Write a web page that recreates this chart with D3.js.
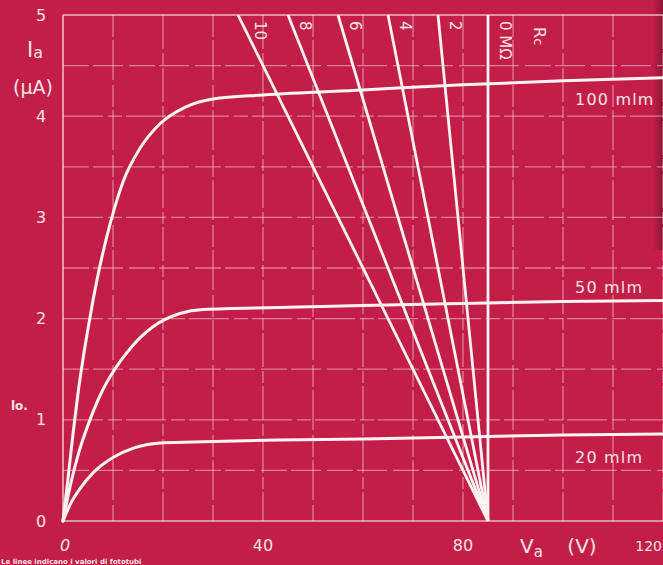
<!DOCTYPE html>
<html>
<head>
<meta charset="utf-8">
<script src="https://d3js.org/d3.v7.min.js"></script>
<style>
  html, body { margin: 0; padding: 0; background: #c21e48; }
  svg { display: block; }
  text { font-family: "DejaVu Sans", sans-serif; fill: #f5e4e6; }
</style>
</head>
<body>
<div id="chart"></div>
<script>
// anode voltage (V) / anode current (uA)
let v100 = [0, 1, 2, 3, 4, 5, 6, 7, 9.5, 12, 15.5, 19.5, 24.5, 30, 40, 60, 80, 100, 120];
let i100 = [0, 0.42, 0.86, 1.26, 1.6, 1.9, 2.18, 2.43, 2.95, 3.35, 3.69, 3.93, 4.09, 4.17, 4.21, 4.26, 4.31, 4.35, 4.38];

let v50 = [0, 1.5, 3.3, 5.4, 7.7, 10.1, 13.7, 18, 23.4, 28, 43, 60, 80, 100, 120];
let i50 = [0, 0.36, 0.7, 1.0, 1.27, 1.48, 1.72, 1.92, 2.05, 2.09, 2.11, 2.13, 2.15, 2.17, 2.18];

let v20 = [0, 1.5, 3.4, 6.1, 10.1, 14.1, 19.4, 26, 43, 60, 80, 100, 120];
let i20 = [0, 0.17, 0.32, 0.48, 0.63, 0.72, 0.77, 0.78, 0.8, 0.81, 0.83, 0.85, 0.86];

let curveNames = ["100 mlm", "50 mlm", "20 mlm"];

// load lines: Rc (MOhm), voltage where each one meets the 5 uA edge, supply voltage
let rcValues = [10, 8, 6, 4, 2, 0];
let rcTopV = [35, 45, 55, 65, 75, 85];
let supplyV = 85;

let xTicks = [0, 40, 80, 120];
let xTickLabels = ["0", "40", "80", "120"];
let yTicks = [0, 1, 2, 3, 4, 5];

let W = 663, H = 565;

let svg = d3.select("#chart").append("svg")
  .attr("width", W).attr("height", H);

let defs = svg.append("defs");
let grad = defs.append("linearGradient").attr("id", "edge")
  .attr("x1", 0).attr("x2", 1).attr("y1", 0).attr("y2", 0);
grad.append("stop").attr("offset", 0).attr("stop-color", "#5a0f22").attr("stop-opacity", 0);
grad.append("stop").attr("offset", 1).attr("stop-color", "#5a0f22").attr("stop-opacity", 0.55);

svg.append("rect").attr("width", W).attr("height", H).attr("fill", "#c21e48");
svg.append("rect").attr("x", 653).attr("y", 0).attr("width", 10).attr("height", 250)
  .attr("fill", "url(#edge)");

let x = d3.scaleLinear().domain([0, 120]).range([63, 663]);
let y = d3.scaleLinear().domain([0, 5]).range([521, 15]);

// grid
let grid = svg.append("g")
  .attr("stroke", "#f6dfe3")
  .attr("stroke-opacity", 0.5)
  .attr("stroke-width", 1.3)
  .attr("fill", "none");

grid.selectAll("line.v")
  .data(d3.range(10, 121, 10))
  .enter().append("line")
  .attr("x1", d => x(d)).attr("x2", d => x(d))
  .attr("y1", y(5)).attr("y2", y(0))
  .attr("stroke-dasharray", (d, i) => i % 2 ? "34,4,12,3" : "22,3,40,5");

grid.selectAll("line.h")
  .data(d3.range(0.5, 5, 0.5))
  .enter().append("line")
  .attr("x1", x(0)).attr("x2", x(120))
  .attr("y1", d => y(d)).attr("y2", d => y(d))
  .attr("stroke-dasharray", (d, i) => i % 2 ? "40,5,14,4" : "26,4,30,6");

// frame: left, top, bottom
let frame = svg.append("g").attr("stroke", "#f6dfe3").attr("stroke-opacity", 0.8)
  .attr("stroke-width", 1.6).attr("fill", "none");
frame.append("line").attr("x1", x(0)).attr("x2", x(0)).attr("y1", y(5)).attr("y2", y(0));
frame.append("line").attr("x1", x(0)).attr("x2", x(120)).attr("y1", y(5)).attr("y2", y(5));
frame.append("line").attr("x1", x(0)).attr("x2", x(120)).attr("y1", y(0)).attr("y2", y(0));

// photocurrent curves
let line = d3.line()
  .x(d => x(d[0])).y(d => y(d[1]))
  .curve(d3.curveMonotoneX);

let series = [
  d3.zip(v100, i100),
  d3.zip(v50, i50),
  d3.zip(v20, i20)
];

svg.append("g").selectAll("path")
  .data(series)
  .enter().append("path")
  .attr("d", line)
  .attr("fill", "none")
  .attr("stroke", "#fdf4f3")
  .attr("stroke-width", 3)
  .attr("stroke-linecap", "round");

// load lines
svg.append("g").selectAll("line")
  .data(rcTopV)
  .enter().append("line")
  .attr("x1", x(supplyV)).attr("y1", y(0))
  .attr("x2", d => x(d)).attr("y2", y(5))
  .attr("stroke", "#fdf4f3")
  .attr("stroke-width", 2.8);

// Rc labels, rotated
svg.append("g").selectAll("text")
  .data(rcValues)
  .enter().append("text")
  .attr("transform", (d, i) => "translate(" + (x(rcTopV[i]) + (i === 0 ? 22 : 17)) + ",21) rotate(90)")
  .attr("dominant-baseline", "central")
  .attr("font-size", 15)
  .text(d => d === 0 ? "0 MΩ" : d);

let rcTitle = svg.append("text")
  .attr("transform", "translate(" + (x(supplyV) + 52) + ",27) rotate(90)")
  .attr("dominant-baseline", "central")
  .attr("font-size", 16);
rcTitle.append("tspan").text("R");
rcTitle.append("tspan").attr("font-size", 13).attr("dy", 1).text("c");

// curve labels
let labelY = [105, 293, 463];
svg.append("g").selectAll("text")
  .data(curveNames)
  .enter().append("text")
  .attr("x", 575)
  .attr("y", (d, i) => labelY[i])
  .attr("font-size", 16)
  .attr("letter-spacing", 1.2)
  .text(d => d);

// y ticks
svg.append("g").selectAll("text")
  .data(yTicks)
  .enter().append("text")
  .attr("x", 41).attr("y", d => y(d))
  .attr("text-anchor", "middle")
  .attr("dominant-baseline", "central")
  .attr("font-size", 16)
  .text(d => d);

// x ticks (last one pulled inside the right edge)
svg.append("g").selectAll("text")
  .data(xTicks)
  .enter().append("text")
  .attr("x", (d, i) => i === 0 ? x(d) + 2 : i === 3 ? W - 1 : x(d))
  .attr("y", 551)
  .attr("text-anchor", (d, i) => i === 3 ? "end" : "middle")
  .attr("font-size", (d, i) => i === 3 ? 14 : 16)
  .attr("font-style", (d, i) => i === 0 ? "italic" : "normal")
  .text((d, i) => xTickLabels[i]);

// axis titles
let ia = svg.append("text").attr("x", 27).attr("y", 57).attr("font-size", 21);
ia.append("tspan").text("I");
ia.append("tspan").attr("font-size", 16).attr("dy", 1).text("a");
svg.append("text").attr("x", 33).attr("y", 94).attr("text-anchor", "middle")
  .attr("font-size", 19).text("(µA)");

let va = svg.append("text").attr("x", 520).attr("y", 553).attr("font-size", 20);
va.append("tspan").text("V");
va.append("tspan").attr("font-size", 15).attr("dy", 4).text("a");
svg.append("text").attr("x", 582).attr("y", 553).attr("text-anchor", "middle")
  .attr("font-size", 20).text("(V)");

// scraps of the page caption
svg.append("text").attr("x", 11).attr("y", 410).attr("font-size", 12)
  .attr("font-weight", "bold").text("lo.");
svg.append("text").attr("x", 1).attr("y", 564).attr("font-size", 7)
  .attr("font-weight", "bold").text("Le linee indicano i valori di fototubi");
</script>
</body>
</html>
